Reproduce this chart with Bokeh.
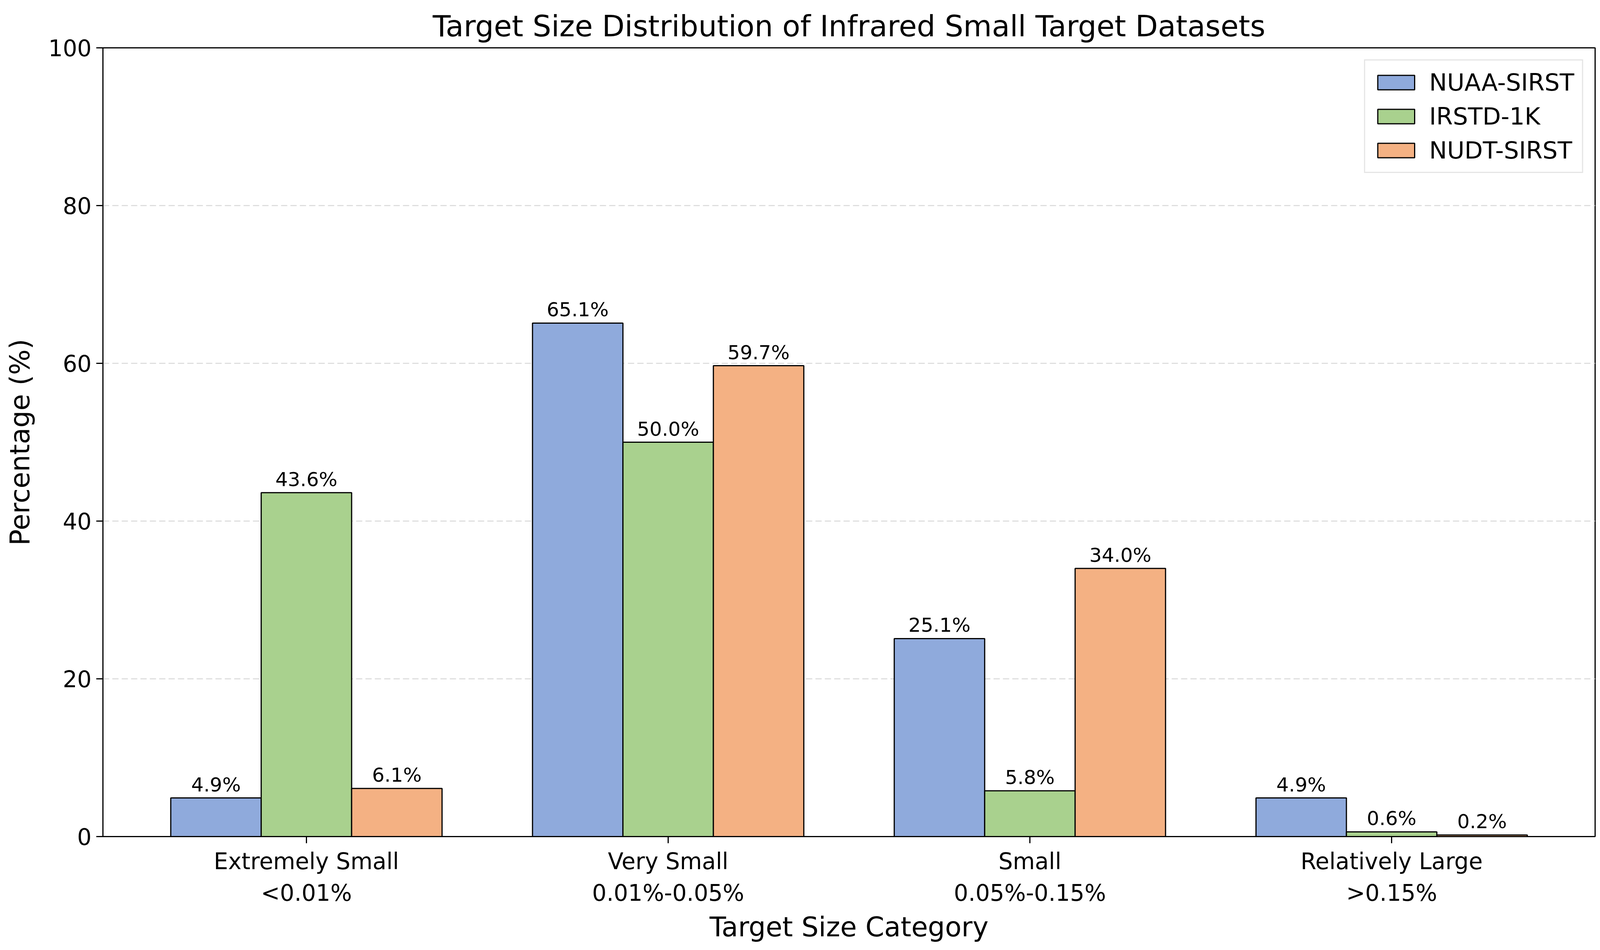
from bokeh.plotting import figure
from bokeh.models import ColumnDataSource, FixedTicker, Legend, LegendItem, Range1d
from bokeh.embed import file_html
from bokeh.resources import INLINE
from bokeh.core.properties import value
from bokeh.transform import dodge

# ---- data ----
categories = ["Extremely Small\n<0.01%", "Very Small\n0.01%-0.05%",
              "Small\n0.05%-0.15%", "Relatively Large\n>0.15%"]
series_names = ["NUAA-SIRST", "IRSTD-1K", "NUDT-SIRST"]
nuaa = [4.9, 65.1, 25.1, 4.9]
irstd = [43.6, 50.0, 5.8, 0.6]
nudt = [6.1, 59.7, 34.0, 0.2]
y_ticks = [0, 20, 40, 60, 80, 100]

colors = ["#8FAADC", "#A9D18E", "#F4B183"]
offsets = [-0.25, 0.0, 0.25]
FONT = "DejaVu Sans"

W, H = 4104, 2417
p = figure(width=W, height=H, output_backend="svg", toolbar_location=None,
           x_range=Range1d(-0.5625, 3.5625), y_range=Range1d(0, 100),
           min_border_left=263, min_border_right=W - 4083,
           min_border_top=122, min_border_bottom=262)

p.title.text = "Target Size Distribution of Infrared Small Target Datasets"
p.title.text_font = FONT
p.title.text_font_size = "75px"
p.title.text_font_style = "normal"
p.title.text_color = "black"
p.title.align = "center"
p.title.offset = 0
p.title.standoff = 24

xs = list(range(len(categories)))
series = [nuaa, irstd, nudt]
items = []
for name, vals, col, off in zip(series_names, series, colors, offsets):
    src = ColumnDataSource(dict(x=xs, top=vals, label=[f"{v:.1f}%" for v in vals]))
    r = p.vbar(x=dodge("x", off), top="top", width=0.25, bottom=0, source=src,
               fill_color=col, line_color="black", line_width=3)
    p.text(x=dodge("x", off), y="top", text="label", source=src,
           text_align="center", text_baseline="alphabetic", y_offset=-34,
           text_font=value(FONT), text_font_size="50px", text_color="black")
    items.append(LegendItem(label=name, renderers=[r]))

legend = Legend(items=items, location="top_right",
                label_text_font=FONT, label_text_font_size="61px",
                label_text_color="black",
                glyph_width=118, glyph_height=46, spacing=16,
                label_standoff=26, padding=20, margin=30,
                border_line_color="#cccccc", border_line_width=3,
                background_fill_alpha=0.8)
p.add_layout(legend)

# grid
p.xgrid.visible = False
p.ygrid.ticker = FixedTicker(ticks=y_ticks)
p.ygrid.grid_line_color = "#d9d9d9"
p.ygrid.grid_line_width = 2.5
p.ygrid.grid_line_dash = "16 8"

# axes
p.yaxis.ticker = FixedTicker(ticks=y_ticks)
p.xaxis.ticker = FixedTicker(ticks=xs)
p.xaxis.major_label_overrides = {i: c for i, c in zip(xs, categories)}
for ax in (p.xaxis, p.yaxis):
    ax.axis_line_color = "black"
    ax.axis_line_width = 3
    ax.major_tick_line_color = "black"
    ax.major_tick_line_width = 3
    ax.major_tick_out = 17
    ax.major_tick_in = 0
    ax.minor_tick_line_color = None
    ax.major_label_text_font = FONT
    ax.major_label_text_font_size = "58px"
    ax.major_label_text_color = "black"
    ax.axis_label_text_font = FONT
    ax.axis_label_text_font_size = "69px"
    ax.axis_label_text_font_style = "normal"
    ax.axis_label_text_color = "black"
    ax.major_label_standoff = 12
p.xaxis.axis_label = "Target Size Category"
p.yaxis.axis_label = "Percentage (%)"
p.xaxis.axis_label_standoff = 10
p.yaxis.axis_label_standoff = 30

p.outline_line_color = "black"
p.outline_line_width = 3
p.background_fill_color = "white"
p.border_fill_color = "white"

open("out.html", "w").write(file_html(p, INLINE))
